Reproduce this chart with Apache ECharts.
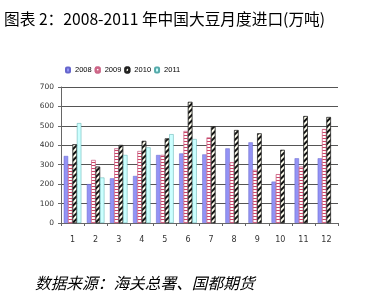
<!DOCTYPE html>
<html><head><meta charset="utf-8">
<script src="https://cdn.jsdelivr.net/npm/echarts@6/dist/echarts.min.js"></script>
<style>html,body{margin:0;padding:0;background:#fff;}#c{width:374px;height:292px;}</style>
</head><body><div id="c"></div>
<script>
const months = ['1','2','3','4','5','6','7','8','9','10','11','12'];
const seriesNames = ['2008','2009','2010','2011'];
const v2008 = [345,200,230,242,350,358,353,384,415,213,333,333];
const v2009 = [299,324,384,370,350,473,440,312,273,251,290,483];
const v2010 = [405,290,401,422,435,623,498,478,461,376,550,545];
const v2011 = [514,234,350,389,457,432,null,null,null,null,null,null];
const yTicks = [0,100,200,300,400,500,600,700];

const chart = echarts.init(document.getElementById('c'), null, {renderer:'canvas'});
const cfont = '"Noto Sans CJK SC", sans-serif';
chart.setOption({
  animation:false,
  backgroundColor:'#fff',
  title:[
    {text:'图表 2：2008-2011 年中国大豆月度进口(万吨)', left:4, top:11, padding:0,
     textStyle:{fontFamily:cfont, fontSize:15.7, fontWeight:'normal', color:'#000'}},
    {text:'数据来源：海关总署、国都期货', left:35, top:275, padding:0,
     textStyle:{fontFamily:cfont, fontSize:15.7, fontWeight:'normal', fontStyle:'italic', color:'#000'}}
  ],
  legend:{left:65, top:66, padding:0, itemWidth:4, itemHeight:5, itemGap:3,
    textStyle:{fontFamily:'"Liberation Sans", sans-serif', fontSize:7.5, color:'#000'},
    data:seriesNames},
  grid:{left:61, right:36, top:87, bottom:69, containLabel:false},
  xAxis:{type:'category', data:months,
    axisLine:{lineStyle:{color:'#666', width:1}},
    axisTick:{show:true, length:3, lineStyle:{color:'#666'}},
    axisLabel:{fontFamily:'"DejaVu Sans", sans-serif', fontSize:8, color:'#333', margin:13}},
  yAxis:{type:'value', min:0, max:700, interval:100,
    axisLine:{show:true, lineStyle:{color:'#666', width:1}},
    axisTick:{show:true, length:3, lineStyle:{color:'#666'}},
    axisLabel:{fontFamily:'"DejaVu Sans", sans-serif', fontSize:7.5, color:'#333', margin:7,
      formatter: v => yTicks.includes(v) ? String(v) : ''},
    splitLine:{lineStyle:{color:'#555', width:1}}},
  series:[
    {name:'2008', type:'bar', data:v2008, barGap:'0%', barCategoryGap:'24%',
     itemStyle:{color:'#9393f5', borderColor:'#6666cc', borderWidth:0.5}},
    {name:'2009', type:'bar', data:v2009,
     itemStyle:{color:'#ffffff', borderColor:'#cc6688', borderWidth:0.5,
       decal:{symbol:'rect', symbolSize:1, dashArrayX:[1,0], dashArrayY:[1,2], color:'#cc4466', rotation:0}}},
    {name:'2010', type:'bar', data:v2010,
     itemStyle:{color:'#fffff0', borderColor:'#222', borderWidth:0.5,
       decal:{symbol:'rect', symbolSize:1, dashArrayX:[1,0], dashArrayY:[2,2], color:'#111', rotation:-Math.PI/4}}},
    {name:'2011', type:'bar', data:v2011,
     itemStyle:{color:'#ccffff', borderColor:'#55aaaa', borderWidth:0.5}}
  ]
});
</script></body></html>
